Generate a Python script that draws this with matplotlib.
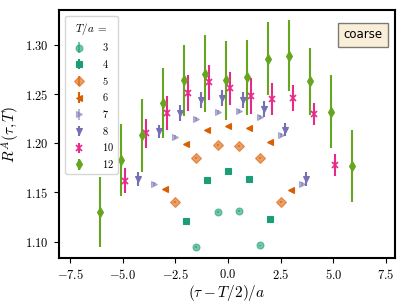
"""Ratio R^A(tau, T) against (tau - T/2)/a for several T/a on the coarse ensemble."""

import matplotlib

matplotlib.use("Agg")
import matplotlib.pyplot as plt
import numpy as np

plt.rcParams["mathtext.fontset"] = "cm"
plt.rcParams["font.family"] = "serif"
plt.rcParams["font.serif"] = ["cmr10", "DejaVu Serif"]
plt.rcParams["axes.formatter.use_mathtext"] = True
plt.rcParams["axes.unicode_minus"] = True

# --- data ---
t_values = [3, 4, 5, 6, 7, 8, 10, 12]
x_shift = [0.0, 0.0, 0.0, 0.0, 0.0, -0.3, 0.1, -0.1]

r3 = [1.094, 1.130, 1.131, 1.096]
r4 = [1.121, 1.163, 1.172, 1.164, 1.123]
r5 = [1.140, 1.185, 1.198, 1.197, 1.185, 1.140]
r6 = [1.153, 1.199, 1.214, 1.218, 1.216, 1.201, 1.152]
r7 = [1.159, 1.206, 1.225, 1.232, 1.233, 1.227, 1.208, 1.159]
r8 = [1.164, 1.212, 1.231, 1.244, 1.246, 1.244, 1.235, 1.214, 1.164]
r10 = [1.162, 1.210, 1.231, 1.251, 1.262, 1.256, 1.248, 1.245, 1.246, 1.230, 1.178]
r12 = [1.130, 1.183, 1.208, 1.241, 1.264, 1.271, 1.264, 1.267, 1.286, 1.289, 1.263, 1.232, 1.177]

e3 = [0.001, 0.001, 0.001, 0.001]
e4 = [0.001, 0.001, 0.001, 0.001, 0.001]
e5 = [0.001, 0.001, 0.001, 0.001, 0.001, 0.001]
e6 = [0.001, 0.001, 0.001, 0.001, 0.001, 0.001, 0.001]
e7 = [0.002, 0.002, 0.002, 0.002, 0.002, 0.002, 0.002, 0.002]
e8 = [0.007, 0.007, 0.008, 0.008, 0.008, 0.008, 0.008, 0.007, 0.007]
e10 = [0.013, 0.015, 0.017, 0.018, 0.018, 0.017, 0.018, 0.016, 0.013, 0.011, 0.011]
e12 = [0.036, 0.037, 0.037, 0.036, 0.036, 0.039, 0.040, 0.038, 0.037, 0.036, 0.034, 0.037, 0.037]

ratios = [r3, r4, r5, r6, r7, r8, r10, r12]
errors = [e3, e4, e5, e6, e7, e8, e10, e12]

# style per T
colors = ["#1b9e77", "#1b9e77", "#d95f02", "#d95f02", "#7570b3", "#7570b3", "#e7298a", "#66a61e"]
alphas = [0.6, 1.0, 0.6, 1.0, 0.5, 1.0, 1.0, 1.0]
markers = ["o", "s", "D", "<", ">", "v", "x", "d"]

fig = plt.figure(figsize=(4.07, 3.07), dpi=100)
ax = fig.add_axes([0.144, 0.16, 0.8265, 0.807])

for T, shift, r, e, c, a, m in zip(t_values, x_shift, ratios, errors, colors, alphas, markers):
    x = np.arange(-T / 2, T / 2 + 0.5, 1.0)[: len(r)] + shift
    ax.errorbar(
        x, r, yerr=e,
        fmt=m, color=c, alpha=a,
        markersize=5, elinewidth=1.5, capsize=0,
        markeredgewidth=1.2 if m == "x" else 0.8,
        label=f"${T}$",
    )

ax.set_xlim(-8.05, 7.93)
ax.set_ylim(1.0834, 1.3355)
ax.set_xticks([-7.5, -5.0, -2.5, 0.0, 2.5, 5.0, 7.5])
ax.set_yticks([1.10, 1.15, 1.20, 1.25, 1.30])
ax.tick_params(labelsize=9)
for side in ax.spines.values():
    side.set_linewidth(1.5)
    side.set_color("black")

ax.set_xlabel(r"$(\tau - T/2)/a$", fontsize=11, labelpad=1)
ax.set_ylabel(r"$R^A(\tau, T)$", fontsize=11, labelpad=2)

leg = ax.legend(
    title=r"$T/a\;=$", loc="upper left", fontsize=7.5, title_fontsize=8,
    labelspacing=0.45, handletextpad=1.2, borderaxespad=0.6,
)

ax.text(
    0.905, 0.90, "coarse", transform=ax.transAxes, ha="center", va="center",
    fontsize=8.5, family="DejaVu Sans",
    bbox=dict(boxstyle="square,pad=0.45", facecolor="wheat", alpha=0.5),
)

fig.savefig("out.png", dpi=100)
